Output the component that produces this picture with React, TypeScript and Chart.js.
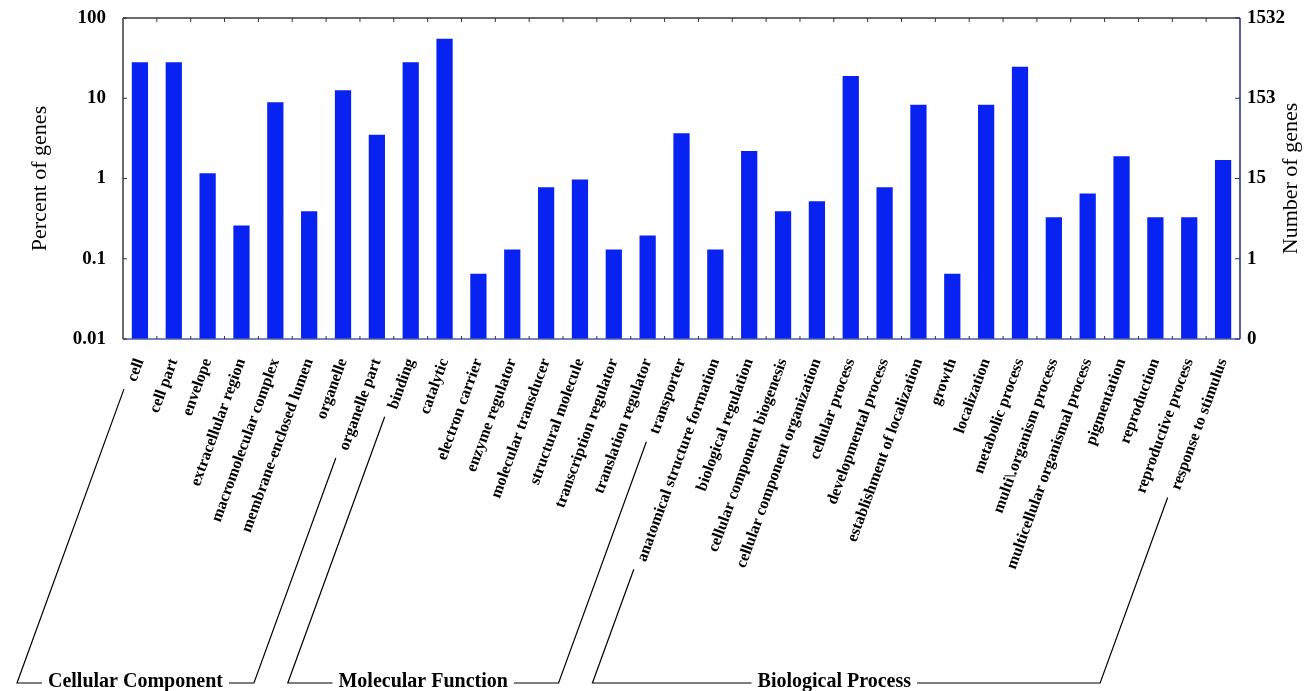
import React, { useEffect, useRef } from 'react';
import { Chart, registerables } from 'chart.js';

Chart.register(...registerables);

const CATEGORIES = [
  'cell', 'cell part', 'envelope', 'extracellular region', 'macromolecular complex',
  'membrane-enclosed lumen', 'organelle', 'organelle part',
  'binding', 'catalytic', 'electron carrier', 'enzyme regulator', 'molecular transducer',
  'structural molecule', 'transcription regulator', 'translation regulator', 'transporter',
  'anatomical structure formation', 'biological regulation', 'cellular component biogenesis',
  'cellular component organization', 'cellular process', 'developmental process',
  'establishment of localization', 'growth', 'localization', 'metabolic process',
  'multi\\.organism process', 'multicellular organismal process', 'pigmentation',
  'reproduction', 'reproductive process', 'response to stimulus',
];

const PERCENT_OF_GENES = [
  28, 28, 1.16, 0.26, 8.9, 0.39, 12.6, 3.5,
  28, 55, 0.065, 0.13, 0.78, 0.97, 0.13, 0.195, 3.66,
  0.13, 2.2, 0.39, 0.52, 18.9, 0.78, 8.3, 0.065, 8.3, 24.7, 0.33, 0.65, 1.9, 0.33, 0.33, 1.7,
];

const LEFT_TICKS = [0.01, 0.1, 1, 10, 100];
const LEFT_TICK_LABELS = ['0.01', '0.1', '1', '10', '100'];
const RIGHT_TICK_LABELS = ['0', '1', '15', '153', '1532'];

const GROUP_NAMES = ['Cellular Component', 'Molecular Function', 'Biological Process'];
const GROUP_FIRST = [0, 8, 17];
const GROUP_LAST = [7, 16, 32];

const SERIF = '"Liberation Serif", "Times New Roman", serif';
const ROT = 70;
const LABEL_PAD = 17;
const LABEL_SIZE = 16;

const decor = {
  id: 'decor',
  afterDraw(chart: any) {
    const ctx = chart.ctx as CanvasRenderingContext2D;
    const { left, right, top, bottom } = chart.chartArea;
    const xs = chart.scales.x;
    const ys = chart.scales.y;
    const n = CATEGORIES.length;
    const step = (right - left) / n;
    const line = (x1: number, y1: number, x2: number, y2: number) => {
      ctx.beginPath();
      ctx.moveTo(x1, y1);
      ctx.lineTo(x2, y2);
      ctx.stroke();
    };
    ctx.save();
    // frame
    ctx.lineWidth = 1.5;
    ctx.strokeStyle = '#3a3a3a';
    line(left, top, right, top);
    line(left, top, left, bottom);
    ctx.strokeStyle = '#1e2c7c';
    line(right, top, right, bottom);
    ctx.strokeStyle = '#4a5ca8';
    line(left, bottom, right, bottom);
    // category ticks
    ctx.lineWidth = 1;
    ctx.strokeStyle = '#333';
    for (let i = 1; i < n; i++) {
      const xx = left + i * step;
      line(xx, top, xx, top + 4);
      line(xx, bottom, xx, bottom - 3);
    }
    for (const v of LEFT_TICKS) {
      const yy = ys.getPixelForValue(v);
      line(left, yy, left + 4, yy);
      ctx.strokeStyle = '#1e2c7c';
      line(right, yy, right - 5, yy);
      ctx.strokeStyle = '#333';
    }
    // axis titles
    ctx.fillStyle = '#000';
    ctx.font = `22px ${SERIF}`;
    ctx.textAlign = 'center';
    ctx.textBaseline = 'middle';
    const midY = (top + bottom) / 2;
    ctx.save();
    ctx.translate(40, midY);
    ctx.rotate(-Math.PI / 2);
    ctx.fillText('Percent of genes', 0, 0);
    ctx.restore();
    ctx.save();
    ctx.translate(right + 51, midY);
    ctx.rotate(-Math.PI / 2);
    ctx.fillText('Number of genes', 0, 0);
    ctx.restore();

    // group brackets
    const a = (ROT * Math.PI) / 180;
    const dx = -Math.cos(a);
    const dy = Math.sin(a);
    const y0 = bottom + LABEL_PAD + 3;
    const baseY = chart.height - 8;
    const diag = (i: number) => {
      ctx.font = `bold ${LABEL_SIZE}px ${SERIF}`;
      const L = ctx.measureText(CATEGORIES[i]).width;
      const t = L + 9;
      const px = xs.getPixelForValue(i) + dx * t - 5;
      const py = y0 + dy * t;
      const bx = px - (baseY - py) / Math.tan(a);
      return { px, py, bx };
    };
    ctx.lineWidth = 1.2;
    ctx.strokeStyle = '#000';
    for (let g = 0; g < GROUP_NAMES.length; g++) {
      const p = diag(GROUP_FIRST[g]);
      const q = diag(GROUP_LAST[g]);
      const cx = (p.bx + q.bx) / 2 - (g === 2 ? 12 : 0);
      ctx.font = `bold 20px ${SERIF}`;
      const w = ctx.measureText(GROUP_NAMES[g]).width;
      ctx.fillText(GROUP_NAMES[g], cx, baseY - 1);
      ctx.beginPath();
      ctx.moveTo(p.px, p.py);
      ctx.lineTo(p.bx, baseY);
      ctx.lineTo(cx - w / 2 - 6, baseY);
      ctx.stroke();
      ctx.beginPath();
      ctx.moveTo(cx + w / 2 + 6, baseY);
      ctx.lineTo(q.bx, baseY);
      ctx.lineTo(q.px, q.py);
      ctx.stroke();
    }
    ctx.restore();
  },
};

const fitY = (width: number) => (s: any) => {
  s.width = width;
  s.paddingTop = 0;
  s.paddingBottom = 0;
};

export default function App() {
  const ref = useRef<HTMLCanvasElement | null>(null);
  useEffect(() => {
    if (!ref.current) return;
    Chart.defaults.font.family = SERIF;
    const tickFont = { family: SERIF, size: 19, weight: 'bold' as const };
    const chart = new Chart(ref.current, {
      type: 'bar',
      data: {
        labels: CATEGORIES,
        datasets: [
          {
            data: PERCENT_OF_GENES,
            backgroundColor: '#0822f2',
            borderWidth: 0,
            barPercentage: 0.48,
            categoryPercentage: 1,
            yAxisID: 'y',
          },
        ],
      },
      options: {
        animation: false,
        responsive: false,
        maintainAspectRatio: false,
        devicePixelRatio: 1,
        layout: { padding: { top: 18, left: 0, right: 0, bottom: 0 } },
        plugins: { legend: { display: false }, tooltip: { enabled: false } },
        scales: {
          x: {
            type: 'category',
            grid: { display: false, drawTicks: false },
            border: { display: false },
            ticks: {
              autoSkip: false,
              minRotation: ROT,
              maxRotation: ROT,
              padding: LABEL_PAD,
              color: '#000',
              font: { family: SERIF, size: LABEL_SIZE, weight: 'bold' },
            },
            afterFit: (s: any) => {
              s.height = 352;
              s.paddingLeft = 0;
              s.paddingRight = 0;
            },
          },
          y: {
            type: 'logarithmic',
            position: 'left',
            min: 0.01,
            max: 100,
            grid: { display: false, drawTicks: false },
            border: { display: false },
            afterBuildTicks: (s: any) => {
              s.ticks = LEFT_TICKS.map((v) => ({ value: v }));
            },
            ticks: {
              padding: 17,
              color: '#000',
              font: tickFont,
              callback: (_v: any, i: number) => LEFT_TICK_LABELS[i],
            },
            afterFit: fitY(123),
          },
          y1: {
            type: 'logarithmic',
            position: 'right',
            min: 0.01,
            max: 100,
            grid: { display: false, drawTicks: false },
            border: { display: false },
            afterBuildTicks: (s: any) => {
              s.ticks = LEFT_TICKS.map((v) => ({ value: v }));
            },
            ticks: {
              padding: 7,
              color: '#000',
              font: tickFont,
              callback: (_v: any, i: number) => RIGHT_TICK_LABELS[i],
            },
            afterFit: fitY(68),
          },
        },
      } as any,
      plugins: [decor],
    });
    return () => chart.destroy();
  }, []);
  return (
    <div style={{ position: 'fixed', left: 0, top: 0, width: 1308, height: 691, background: '#fff' }}>
      <canvas ref={ref} width={1308} height={691} style={{ display: 'block' }} />
    </div>
  );
}
